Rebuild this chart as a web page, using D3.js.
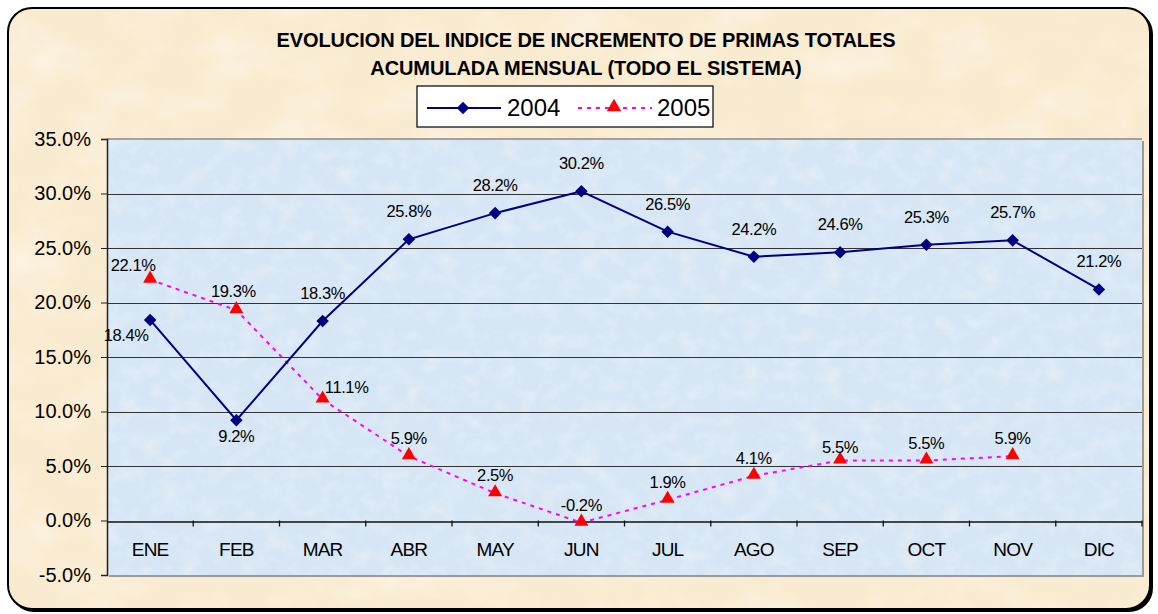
<!DOCTYPE html>
<html>
<head>
<meta charset="utf-8">
<script src="https://cdn.jsdelivr.net/npm/d3@7"></script>
<style>
  body { margin: 0; background: #fff; }
  text { font-family: "Liberation Sans", Arial, sans-serif; }
</style>
</head>
<body>
<div id="chart"></div>
<script>
const months = ["ENE", "FEB", "MAR", "ABR", "MAY", "JUN", "JUL", "AGO", "SEP", "OCT", "NOV", "DIC"];
const values2004 = [18.4, 9.2, 18.3, 25.8, 28.2, 30.2, 26.5, 24.2, 24.6, 25.3, 25.7, 21.2];
const values2005 = [22.1, 19.3, 11.1, 5.9, 2.5, -0.2, 1.9, 4.1, 5.5, 5.5, 5.9];
const yTicks = [-5, 0, 5, 10, 15, 20, 25, 30, 35];
const titleLines = ["EVOLUCION DEL INDICE DE INCREMENTO DE PRIMAS TOTALES", "ACUMULADA MENSUAL (TODO EL SISTEMA)"];

const width = 1158, height = 614;
const plot = { left: 107, right: 1142, top: 139, bottom: 575 };

const svg = d3.select("#chart").append("svg")
    .attr("width", width)
    .attr("height", height);

const defs = svg.append("defs");

// paper-like textures
function texture(id, seed, base, tint, freq, amount) {
    const f = defs.append("filter").attr("id", id)
        .attr("x", 0).attr("y", 0).attr("width", "100%").attr("height", "100%");
    f.append("feTurbulence").attr("type", "fractalNoise")
        .attr("baseFrequency", freq).attr("numOctaves", 4).attr("seed", seed).attr("result", "noise");
    f.append("feColorMatrix").attr("in", "noise").attr("type", "matrix")
        .attr("values", `0 0 0 0 ${tint[0]}  0 0 0 0 ${tint[1]}  0 0 0 0 ${tint[2]}  ${amount} 0 0 0 ${-amount * 0.45}`)
        .attr("result", "spots");
    f.append("feFlood").attr("flood-color", base).attr("result", "bg");
    f.append("feComposite").attr("in", "spots").attr("in2", "bg").attr("operator", "over").attr("result", "mix");
    f.append("feComposite").attr("in", "mix").attr("in2", "SourceGraphic").attr("operator", "in");
}
texture("paper", 3, "#f9ebcf", [1, 0.98, 0.93], "0.015 0.025", 0.9);
texture("water", 7, "#d7e6f5", [0.92, 0.95, 0.98], "0.05 0.06", 0.8);

// outer frame with shadow
svg.append("rect")
    .attr("x", 10).attr("y", 10).attr("width", 1143).attr("height", 602)
    .attr("rx", 24).attr("ry", 24)
    .attr("fill", "#000");
svg.append("rect")
    .attr("x", 8).attr("y", 8).attr("width", 1142).attr("height", 601)
    .attr("rx", 24).attr("ry", 24)
    .attr("fill", "#f9ebcf")
    .attr("filter", "url(#paper)");
svg.append("rect")
    .attr("x", 8).attr("y", 8).attr("width", 1142).attr("height", 601)
    .attr("rx", 24).attr("ry", 24)
    .attr("fill", "none")
    .attr("stroke", "#000")
    .attr("stroke-width", 2);

// plot area
svg.append("rect")
    .attr("x", plot.left + 2).attr("y", plot.top + 2)
    .attr("width", plot.right - plot.left).attr("height", plot.bottom - plot.top)
    .attr("fill", "#9a9a9a");
svg.append("rect")
    .attr("x", plot.left).attr("y", plot.top)
    .attr("width", plot.right - plot.left).attr("height", plot.bottom - plot.top)
    .attr("fill", "#d9e7f5")
    .attr("filter", "url(#water)");
svg.append("line")
    .attr("x1", plot.left).attr("x2", plot.right)
    .attr("y1", plot.top).attr("y2", plot.top)
    .attr("stroke", "#888").attr("stroke-width", 1.5);

const x = d3.scaleBand().domain(months).range([plot.left, plot.right]);
const y = d3.scaleLinear().domain([-5, 35]).range([plot.bottom, plot.top]);

// gridlines
svg.append("g")
    .selectAll("line")
    .data(yTicks.filter(d => d > -5 && d < 35 && d !== 0))
    .join("line")
    .attr("x1", plot.left).attr("x2", plot.right)
    .attr("y1", d => Math.round(y(d)) + 0.5).attr("y2", d => Math.round(y(d)) + 0.5)
    .attr("stroke", "#333").attr("stroke-width", 1);

// y axis
const yAxis = svg.append("g")
    .attr("transform", `translate(${plot.left},0)`)
    .call(d3.axisLeft(y).tickValues(yTicks).tickSize(6).tickPadding(10)
        .tickFormat(d => d.toFixed(1) + "%"));
yAxis.select(".domain").attr("stroke", "#222").attr("stroke-width", 1.5);
yAxis.selectAll(".tick line").attr("stroke", "#222");
yAxis.selectAll("text")
    .attr("font-size", 20)
    .attr("fill", "#000")
    .style("font-family", "'Liberation Sans', Arial, sans-serif");

// x axis at zero
const xAxis = svg.append("g")
    .attr("transform", `translate(0,${Math.round(y(0)) + 0.5})`)
    .call(d3.axisBottom(x).tickSize(0).tickPadding(21));
xAxis.select(".domain").attr("stroke", "#111").attr("stroke-width", 1.3);
xAxis.selectAll("text")
    .attr("font-size", 19)
    .attr("letter-spacing", "-0.8")
    .attr("fill", "#000")
    .style("font-family", "'Liberation Sans', Arial, sans-serif");
svg.append("g")
    .selectAll("line")
    .data(months.slice(1).concat(["end"]))
    .join("line")
    .attr("x1", (d, i) => plot.left + x.step() * (i + 1))
    .attr("x2", (d, i) => plot.left + x.step() * (i + 1))
    .attr("y1", y(0)).attr("y2", y(0) + 6)
    .attr("stroke", "#111").attr("stroke-width", 1.3);

const cx = i => x(months[i]) + x.bandwidth() / 2;

// 2005 series
const line = d3.line().x((d, i) => cx(i)).y(d => y(d));
svg.append("path")
    .datum(values2005)
    .attr("d", line)
    .attr("fill", "none")
    .attr("stroke", "#ff00ff")
    .attr("stroke-width", 2)
    .attr("stroke-dasharray", "4,5");

// 2004 series
svg.append("path")
    .datum(values2004)
    .attr("d", line)
    .attr("fill", "none")
    .attr("stroke", "#000080")
    .attr("stroke-width", 2);

svg.append("g")
    .selectAll("path")
    .data(values2004)
    .join("path")
    .attr("d", d3.symbol().type(d3.symbolDiamond2).size(100))
    .attr("transform", (d, i) => `translate(${cx(i)},${y(d)})`)
    .attr("fill", "#000080");

svg.append("g")
    .selectAll("path")
    .data(values2005)
    .join("path")
    .attr("d", d3.symbol().type(d3.symbolTriangle).size(85))
    .attr("transform", (d, i) => `translate(${cx(i)},${y(d) - 1})`)
    .attr("fill", "#ff0000");

// data labels (offsets follow Excel's placement)
const offsets2004 = { 0: [-24, 21] , 1: [0, 22] };
const offsets2005 = { 0: [-17, -9], 1: [-3, -13], 2: [24, -7], 8: [0, -8] };

function labels(values, offsets, defDy) {
    svg.append("g")
        .selectAll("text")
        .data(values)
        .join("text")
        .attr("x", (d, i) => cx(i) + (offsets[i] ? offsets[i][0] : 0))
        .attr("y", (d, i) => y(d) + (offsets[i] ? offsets[i][1] : defDy))
        .attr("text-anchor", "middle")
        .attr("font-size", 16.5)
        .attr("letter-spacing", "-0.4")
        .attr("fill", "#000")
        .text(d => d.toFixed(1) + "%");
}
labels(values2004, offsets2004, -22);
labels(values2005, offsets2005, -12);

// title
svg.append("g")
    .selectAll("text")
    .data(titleLines)
    .join("text")
    .attr("x", 586)
    .attr("y", (d, i) => 47 + i * 28)
    .attr("text-anchor", "middle")
    .attr("font-size", 20)
    .attr("font-weight", "bold")
    .attr("letter-spacing", "-0.1")
    .attr("fill", "#000")
    .text(d => d);

// legend
const legend = svg.append("g").attr("transform", "translate(417,86)");
legend.append("rect")
    .attr("width", 296).attr("height", 41)
    .attr("fill", "#fff").attr("stroke", "#000").attr("stroke-width", 1.2);
legend.append("line")
    .attr("x1", 10).attr("x2", 84).attr("y1", 22).attr("y2", 22)
    .attr("stroke", "#000080").attr("stroke-width", 2);
legend.append("path")
    .attr("d", d3.symbol().type(d3.symbolDiamond2).size(100))
    .attr("transform", "translate(46,22)")
    .attr("fill", "#000080");
legend.append("text")
    .attr("x", 90).attr("y", 30)
    .attr("font-size", 24)
    .text("2004");
legend.append("line")
    .attr("x1", 161).attr("x2", 235).attr("y1", 22).attr("y2", 22)
    .attr("stroke", "#ff00ff").attr("stroke-width", 2)
    .attr("stroke-dasharray", "4,5");
legend.append("path")
    .attr("d", d3.symbol().type(d3.symbolTriangle).size(90))
    .attr("transform", "translate(197,21)")
    .attr("fill", "#ff0000");
legend.append("text")
    .attr("x", 240).attr("y", 30)
    .attr("font-size", 24)
    .text("2005");
</script>
</body>
</html>
